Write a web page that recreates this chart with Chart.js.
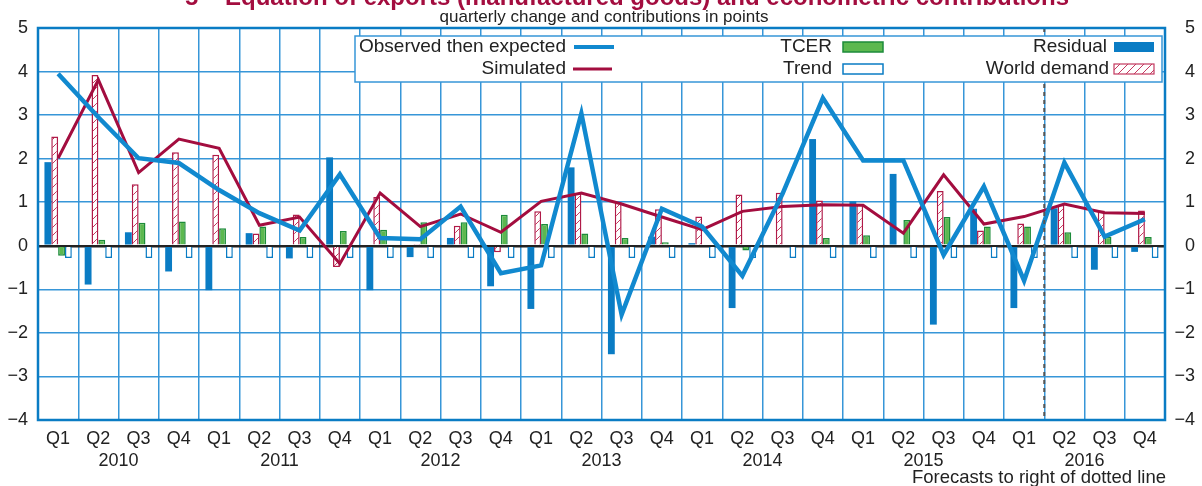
<!DOCTYPE html>
<html>
<head>
<meta charset="utf-8">
<script src="https://cdn.jsdelivr.net/npm/chart.js@4/dist/chart.umd.min.js"></script>
<style>
  html, body { margin: 0; padding: 0; background: #fff; overflow: hidden; }
  #wrap { width: 1202px; height: 486px; position: relative; }
</style>
</head>
<body>
<div id="wrap"><canvas id="exportsChart" width="1202" height="486"></canvas></div>
<script>
const quarters = ["Q1","Q2","Q3","Q4","Q1","Q2","Q3","Q4","Q1","Q2","Q3","Q4","Q1","Q2",
  "Q3","Q4","Q1","Q2","Q3","Q4","Q1","Q2","Q3","Q4","Q1","Q2","Q3","Q4"];
const years = ["2010","2011","2012","2013","2014","2015","2016"];
const yTicks = [-4, -3, -2, -1, 0, 1, 2, 3, 4, 5];

const observed = [3.95, 2.95, 2.01, 1.90, 1.28, 0.75, 0.35, 1.64, 0.18, 0.15, 0.90, -0.63, -0.45, 3.04,
  -1.58, 0.85, 0.44, -0.69, 1.20, 3.39, 1.96, 1.96, -0.21, 1.36, -0.80, 1.91, 0.21, 0.61];
const simulated = [2.01, 3.81, 1.68, 2.45, 2.24, 0.47, 0.66, -0.41, 1.21, 0.44, 0.73, 0.31, 1.02, 1.21,
  0.96, 0.66, 0.37, 0.79, 0.90, 0.94, 0.93, 0.29, 1.63, 0.50, 0.67, 0.96, 0.76, 0.74];
const residual = [1.92, -0.89, 0.31, -0.59, -1.02, 0.29, -0.29, 2.03, -1.02, -0.26, 0.18, -0.93, -1.45, 1.80,
  -2.49, 0.21, 0.06, -1.43, -0.03, 2.45, 1.02, 1.65, -1.81, 0.85, -1.43, 0.86, -0.55, -0.14];
const worldDemand = [2.51, 3.92, 1.41, 2.15, 2.09, 0.28, 0.72, -0.49, 1.12, 0.02, 0.46, -0.15, 0.79, 1.21,
  1.00, 0.84, 0.67, 1.18, 1.22, 1.04, 0.94, -0.03, 1.26, 0.35, 0.51, 0.94, 0.81, 0.81];
const tcer = [-0.23, 0.14, 0.53, 0.56, 0.40, 0.44, 0.20, 0.34, 0.37, 0.54, 0.54, 0.71, 0.50, 0.28,
  0.18, 0.08, -0.03, -0.11, -0.03, 0.18, 0.24, 0.59, 0.66, 0.44, 0.44, 0.31, 0.21, 0.20];
const trend = [-0.28, -0.28, -0.28, -0.28, -0.28, -0.28, -0.28, -0.28, -0.28, -0.28, -0.28, -0.28, -0.28, -0.28,
  -0.28, -0.28, -0.28, -0.28, -0.28, -0.28, -0.28, -0.28, -0.28, -0.28, -0.28, -0.28, -0.28, -0.28];
const forecastFrom = 25; // first forecast quarter (Q2 2016)

const FONT = "'Liberation Sans', Arial, sans-serif";
const BLUE = "#0a7cc4";
const LINEBLUE = "#1189cf";
const GRID = "#3796d8";
const RED = "#a30d3f";
const GREEN = "#5cb84f";
const DKGREEN = "#1c8b3a";

// hatch for world demand bars
function makeHatch() {
  const c = document.createElement("canvas");
  c.width = 8; c.height = 8;
  const g = c.getContext("2d");
  g.fillStyle = "#fff";
  g.fillRect(0, 0, 8, 8);
  g.strokeStyle = "#c4395f";
  g.lineWidth = 1;
  g.beginPath();
  g.moveTo(0, 8); g.lineTo(8, 0);
  g.moveTo(-1, 1); g.lineTo(1, -1);
  g.moveTo(7, 9); g.lineTo(9, 7);
  g.stroke();
  return g.createPattern(c, "repeat");
}
const hatch = makeHatch();

const extras = {
  id: "extras",
  afterDatasetsDraw(chart) {
    const { ctx, chartArea: a, scales } = chart;
    const x = scales.x;
    ctx.save();
    // dotted forecast line
    const xf = (x.getPixelForValue(forecastFrom - 1) + x.getPixelForValue(forecastFrom)) / 2;
    ctx.strokeStyle = "#555";
    ctx.lineWidth = 2;
    ctx.setLineDash([4, 4]);
    ctx.beginPath();
    ctx.moveTo(xf, a.top);
    ctx.lineTo(xf, a.bottom);
    ctx.stroke();
    ctx.setLineDash([]);
    // frame
    ctx.strokeStyle = BLUE;
    ctx.lineWidth = 2.5;
    ctx.strokeRect(a.left, a.top, a.right - a.left, a.bottom - a.top);
    ctx.restore();
  },
  afterDraw(chart) {
    const { ctx, scales } = chart;
    const x = scales.x;
    ctx.save();
    // title (cut at the top) and subtitle
    ctx.textAlign = "center";
    ctx.textBaseline = "alphabetic";
    ctx.fillStyle = RED;
    ctx.font = "bold 24px " + FONT;
    ctx.fillText("5 – Equation of exports (manufactured goods) and econometric contributions", 627, 5);
    ctx.fillStyle = "#222";
    ctx.font = "17px " + FONT;
    ctx.textBaseline = "middle";
    ctx.fillText("quarterly change and contributions in points", 604, 17);

    // years under the quarters
    ctx.font = "18px " + FONT;
    years.forEach((yr, i) => {
      const cx = (x.getPixelForValue(i * 4 + 1) + x.getPixelForValue(i * 4 + 2)) / 2;
      ctx.fillText(yr, cx, 461);
    });
    ctx.textAlign = "right";
    ctx.font = "18.5px " + FONT;
    ctx.fillText("Forecasts to right of dotted line", 1166, 478);

    // legend box
    const L = 355, T = 36, R = 1162, B = 82;
    ctx.fillStyle = "#fff";
    ctx.fillRect(L, T, R - L, B - T);
    ctx.strokeStyle = GRID;
    ctx.lineWidth = 1.5;
    ctx.strokeRect(L, T, R - L, B - T);
    const r1 = 47, r2 = 69;
    ctx.fillStyle = "#222";
    ctx.font = "19px " + FONT;
    ctx.textAlign = "right";
    ctx.fillText("Observed then expected", 566, r1);
    ctx.fillText("Simulated", 566, r2);
    ctx.fillText("TCER", 832, r1);
    ctx.fillText("Trend", 832, r2);
    ctx.fillText("Residual", 1107, r1);
    ctx.fillText("World demand", 1109, r2);
    // line swatches
    ctx.lineWidth = 4;
    ctx.strokeStyle = LINEBLUE;
    ctx.beginPath(); ctx.moveTo(574, r1); ctx.lineTo(614, r1); ctx.stroke();
    ctx.lineWidth = 3;
    ctx.strokeStyle = RED;
    ctx.beginPath(); ctx.moveTo(573, r2); ctx.lineTo(612, r2); ctx.stroke();
    // box swatches
    const sw = (sx, sy, fill, stroke, lw) => {
      ctx.fillStyle = fill;
      ctx.fillRect(sx, sy - 5, 40, 10);
      if (stroke) {
        ctx.strokeStyle = stroke;
        ctx.lineWidth = lw;
        ctx.strokeRect(sx, sy - 5, 40, 10);
      }
    };
    sw(843, r1, GREEN, DKGREEN, 1.5);
    sw(843, r2, "#fff", BLUE, 1.5);
    sw(1114, r1, BLUE, null, 0);
    sw(1114, r2, hatch, "#c4395f", 1.2);
    ctx.restore();
  }
};

new Chart(document.getElementById("exportsChart"), {
  type: "bar",
  data: {
    labels: quarters,
    datasets: [
      { type: "line", label: "Observed then expected", data: observed, borderColor: LINEBLUE,
        borderWidth: 4.5, pointRadius: 0, tension: 0, borderJoinStyle: "miter", order: 0 },
      { type: "line", label: "Simulated", data: simulated, borderColor: RED,
        borderWidth: 3, pointRadius: 0, tension: 0, borderJoinStyle: "miter", order: 0 },
      { label: "Residual", data: residual, backgroundColor: BLUE, borderWidth: 0, order: 1 },
      { label: "World demand", data: worldDemand, backgroundColor: hatch, borderColor: "#b01a48",
        borderWidth: 1.5, order: 1 },
      { label: "TCER", data: tcer, backgroundColor: GREEN, borderColor: DKGREEN, borderWidth: 1.5, order: 1 },
      { label: "Trend", data: trend, backgroundColor: "#fff", borderColor: BLUE, borderWidth: 1.5, order: 1 }
    ]
  },
  options: {
    responsive: false,
    animation: false,
    devicePixelRatio: 1,
    layout: { padding: { top: 28, right: 7, left: 0, bottom: 0 } },
    datasets: { bar: { categoryPercentage: 0.68, barPercentage: 1.0 } },
    plugins: { legend: { display: false }, tooltip: { enabled: false } },
    scales: {
      x: {
        grid: { color: GRID, lineWidth: 1.5, drawTicks: false },
        border: { display: false },
        ticks: { color: "#222", font: { family: FONT, size: 18 }, padding: 8, maxRotation: 0, autoSkip: false },
        afterFit(s) { s.height = 66; }
      },
      y: {
        min: -4, max: 5,
        afterBuildTicks(s) { s.ticks = yTicks.map(v => ({ value: v })); },
        grid: {
          color: c => c.tick && c.tick.value === 0 ? "#222" : GRID,
          lineWidth: c => c.tick && c.tick.value === 0 ? 2.5 : 1.5,
          drawTicks: false
        },
        border: { display: false },
        ticks: { color: "#222", font: { family: FONT, size: 18 }, padding: 10,
          callback: v => String(v).replace("-", "\u2212") },
        afterFit(s) { s.width = 38; }
      },
      y2: {
        position: "right",
        min: -4, max: 5,
        afterBuildTicks(s) { s.ticks = yTicks.map(v => ({ value: v })); },
        grid: { display: false, drawTicks: false },
        border: { display: false },
        ticks: { color: "#222", font: { family: FONT, size: 18 }, crossAlign: "far",
          callback: v => String(v).replace("-", "\u2212") },
        afterFit(s) { s.width = 30; }
      }
    }
  },
  plugins: [extras]
});
</script>
</body>
</html>
